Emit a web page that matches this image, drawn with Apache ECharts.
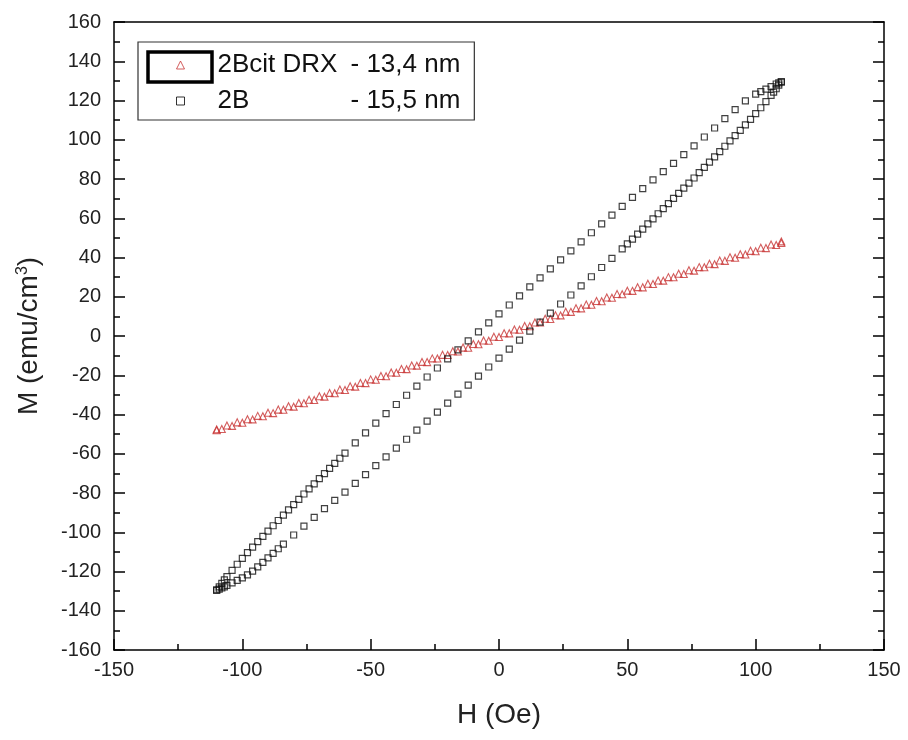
<!DOCTYPE html>
<html><head><meta charset="utf-8">
<script src="https://cdn.jsdelivr.net/npm/echarts/dist/echarts.min.js"></script>
<style>html,body{margin:0;padding:0;background:#fff}#c{width:908px;height:740px}</style>
</head><body><div id="c"></div>
<script>
var FONT = '"Liberation Sans", Arial, sans-serif';
var nameRed = '2Bcit DRX - 13,4 nm';
var nameBlack = '2B - 15,5 nm';
var xTicks = {min: -150, max: 150, interval: 50};
var yTicks = {min: -160, max: 160, interval: 20};

// 2Bcit DRX (red triangles) - field decreasing branch
var redDown = [[110,48.2],[106,46.6],[102,45.0],[98,43.4],[94,41.7],[90,40.1],[86,38.5],[82,36.8],[78,35.1],[74,33.5],[70,31.7],[66,30.0],[62,28.3],[58,26.6],[54,24.9],[50,23.1],[46,21.4],[42,19.6],[38,17.8],[34,16.0],[30,14.2],[26,12.4],[22,10.6],[18,8.8],[14,6.9],[10,5.1],[6,3.3],[2,1.4],[-2,-0.4],[-6,-2.3],[-10,-4.1],[-14,-5.9],[-18,-7.8],[-22,-9.6],[-26,-11.4],[-30,-13.2],[-34,-15.0],[-38,-16.8],[-42,-18.6],[-46,-20.4],[-50,-22.1],[-54,-23.9],[-58,-25.6],[-62,-27.3],[-66,-29.0],[-70,-30.7],[-74,-32.5],[-78,-34.1],[-82,-35.8],[-86,-37.5],[-90,-39.1],[-94,-40.7],[-98,-42.4],[-102,-44.0],[-106,-45.6],[-110,-47.6]];
// 2Bcit DRX (red triangles) - field increasing branch
var redUp = [[-110,-48.0],[-108,-47.4],[-104,-45.8],[-100,-44.2],[-96,-42.5],[-92,-40.9],[-88,-39.3],[-84,-37.6],[-80,-36.0],[-76,-34.3],[-72,-32.6],[-68,-30.9],[-64,-29.2],[-60,-27.5],[-56,-25.8],[-52,-24.0],[-48,-22.3],[-44,-20.5],[-40,-18.7],[-36,-16.9],[-32,-15.1],[-28,-13.3],[-24,-11.5],[-20,-9.7],[-16,-7.9],[-12,-6.0],[-8,-4.2],[-4,-2.4],[0,-0.5],[4,1.35],[8,3.2],[12,5.0],[16,6.9],[20,8.7],[24,10.5],[28,12.3],[32,14.1],[36,15.9],[40,17.7],[44,19.5],[48,21.3],[52,23.0],[56,24.8],[60,26.5],[64,28.2],[68,29.9],[72,31.6],[76,33.3],[80,35.0],[84,36.6],[88,38.3],[92,39.9],[96,41.5],[100,43.2],[104,44.8],[108,46.4],[110,47.4]];
// 2B (black squares) - field decreasing branch
var blackDown = [[110,129.5],[109,129.0],[108,128.4],[106,127.1],[104,125.8],[102,124.5],[100,123.2],[96,119.8],[92,115.4],[88,110.8],[84,106.0],[80,101.4],[76,96.9],[72,92.4],[68,88.0],[64,83.8],[60,79.6],[56,75.1],[52,70.6],[48,66.1],[44,61.6],[40,57.1],[36,52.6],[32,48.0],[28,43.4],[24,38.8],[20,34.2],[16,29.6],[12,25.0],[8,20.4],[4,15.8],[0,11.3],[-4,6.7],[-8,2.1],[-12,-2.5],[-16,-7.1],[-20,-11.7],[-24,-16.3],[-28,-20.9],[-32,-25.5],[-36,-30.2],[-40,-34.9],[-44,-39.6],[-48,-44.4],[-52,-49.4],[-56,-54.5],[-60,-59.7],[-62,-62.3],[-64,-64.9],[-66,-67.5],[-68,-70.1],[-70,-72.7],[-72,-75.3],[-74,-77.9],[-76,-80.5],[-78,-83.2],[-80,-85.9],[-82,-88.6],[-84,-91.3],[-86,-94.0],[-88,-96.7],[-90,-99.4],[-92,-102.1],[-94,-104.8],[-96,-107.6],[-98,-110.4],[-100,-113.3],[-102,-116.3],[-104,-119.4],[-106,-122.6],[-107,-124.3],[-108,-126.0],[-109,-127.8],[-110,-129.5]];
// 2B (black squares) - field increasing branch
var blackUp = [[-110,-129.5],[-109,-129.0],[-108,-128.4],[-107,-127.8],[-106,-127.1],[-104,-125.8],[-102,-124.5],[-100,-123.2],[-98,-121.7],[-96,-119.8],[-94,-117.6],[-92,-115.4],[-90,-113.1],[-88,-110.8],[-86,-108.4],[-84,-106.0],[-80,-101.4],[-76,-96.9],[-72,-92.4],[-68,-88.0],[-64,-83.8],[-60,-79.6],[-56,-75.1],[-52,-70.6],[-48,-66.1],[-44,-61.6],[-40,-57.1],[-36,-52.6],[-32,-48.0],[-28,-43.4],[-24,-38.8],[-20,-34.2],[-16,-29.6],[-12,-25.0],[-8,-20.4],[-4,-15.8],[0,-11.3],[4,-6.7],[8,-2.1],[12,2.5],[16,7.1],[20,11.7],[24,16.3],[28,20.9],[32,25.5],[36,30.2],[40,34.9],[44,39.6],[48,44.4],[50,46.9],[52,49.4],[54,51.9],[56,54.5],[58,57.1],[60,59.7],[62,62.3],[64,64.9],[66,67.5],[68,70.1],[70,72.7],[72,75.3],[74,77.9],[76,80.5],[78,83.2],[80,85.9],[82,88.6],[84,91.3],[86,94.0],[88,96.7],[90,99.4],[92,102.1],[94,104.8],[96,107.6],[98,110.4],[100,113.3],[102,116.3],[104,119.4],[106,122.6],[107,124.3],[108,126.0],[109,127.8],[110,129.5]];

var RED = '#c83434';
var chart = echarts.init(document.getElementById('c'), null, {renderer: 'canvas'});

function axisBase(extra) {
  var a = {
    type: 'value',
    axisLine: {show: true, onZero: false, lineStyle: {color: '#000', width: 1.5}},
    axisTick: {show: true, inside: true, length: 11, lineStyle: {color: '#000', width: 1.5}},
    minorTick: {show: true, splitNumber: 2, length: 6, lineStyle: {color: '#000', width: 1.5}},
    splitLine: {show: false},
    axisLabel: {show: true, fontFamily: FONT, fontSize: 20, color: '#222'}
  };
  for (var k in extra) a[k] = extra[k];
  return a;
}

var redStyle = {color: 'rgba(0,0,0,0)', borderColor: RED, borderWidth: 1.1};
var blackStyle = {color: 'rgba(0,0,0,0)', borderColor: '#111', borderWidth: 1.2};

chart.setOption({
  animation: false,
  backgroundColor: '#fff',
  grid: {left: 114, right: 24, top: 22, bottom: 90, containLabel: false},
  xAxis: [
    axisBase({min: xTicks.min, max: xTicks.max, interval: xTicks.interval, position: 'bottom',
      axisLabel: {fontFamily: FONT, fontSize: 20, color: '#222', margin: 10},
      name: 'H (Oe)', nameLocation: 'middle', nameGap: 51,
      nameTextStyle: {fontFamily: FONT, fontSize: 28, color: '#222'}}),
    axisBase({min: xTicks.min, max: xTicks.max, interval: xTicks.interval, position: 'top',
      axisTick: {show: false}, minorTick: {show: false}, axisLabel: {show: false}})
  ],
  yAxis: [
    axisBase({min: yTicks.min, max: yTicks.max, interval: yTicks.interval, position: 'left',
      axisLabel: {fontFamily: FONT, fontSize: 20, color: '#222', margin: 13},
      name: 'M (emu/cm{sup|3})', nameLocation: 'middle', nameGap: 70,
      nameTextStyle: {fontFamily: FONT, fontSize: 28, color: '#222',
        rich: {sup: {fontFamily: FONT, fontSize: 16, color: '#222', verticalAlign: 'top', padding: [0, 0, 13, 0]}}}}),
    axisBase({min: yTicks.min, max: yTicks.max, interval: yTicks.interval, position: 'right',
      axisLabel: {show: false}})
  ],
  legend: {
    orient: 'vertical', left: 138, top: 42,
    padding: [10, 14, 6, 38],
    itemWidth: 8, itemHeight: 8, itemGap: 10,
    borderColor: '#333', borderWidth: 1.2,
    selectedMode: false,
    data: [
      {name: nameRed, icon: 'triangle', itemStyle: {color: 'rgba(0,0,0,0)', borderColor: RED, borderWidth: 1}},
      {name: nameBlack, icon: 'rect', itemStyle: {color: 'rgba(0,0,0,0)', borderColor: '#000', borderWidth: 1}}
    ],
    formatter: function (n) {
      var parts = n.split(' - ');
      return '{p| }{a|' + parts[0] + '}{b|- ' + parts[1] + '}';
    },
    textStyle: {fontFamily: FONT, fontSize: 26, color: '#111',
      rich: {
        p: {width: 28, fontFamily: FONT, fontSize: 26},
        a: {width: 133, fontFamily: FONT, fontSize: 26, color: '#111', lineHeight: 30},
        b: {fontFamily: FONT, fontSize: 26, color: '#111', lineHeight: 30}
      }}
  },
  graphic: [{
    type: 'rect', shape: {x: 148, y: 52, width: 64, height: 30},
    style: {fill: 'none', stroke: '#000', lineWidth: 3.5}, z: 100
  }],
  series: [
    {name: nameRed, type: 'scatter', symbol: 'triangle', symbolSize: 7, data: redDown, itemStyle: redStyle},
    {name: nameRed, type: 'scatter', symbol: 'triangle', symbolSize: 7, data: redUp, itemStyle: redStyle},
    {name: nameBlack, type: 'scatter', symbol: 'rect', symbolSize: 6, data: blackDown, itemStyle: blackStyle},
    {name: nameBlack, type: 'scatter', symbol: 'rect', symbolSize: 6, data: blackUp, itemStyle: blackStyle}
  ]
});
</script></body></html>
